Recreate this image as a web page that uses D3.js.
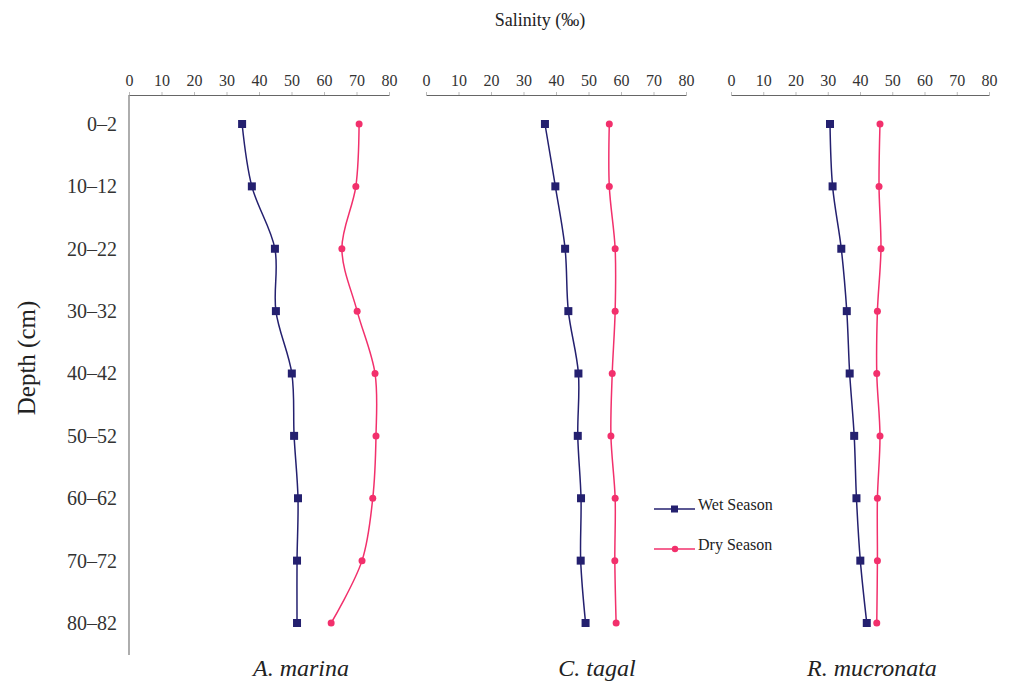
<!DOCTYPE html>
<html><head><meta charset="utf-8">
<script src="https://cdn.jsdelivr.net/npm/d3@7"></script>
<style>body{margin:0;background:#fff;} svg{display:block;}</style>
</head><body>
<svg id="c" width="1012" height="693"></svg>
<script>
const depths = ["0–2","10–12","20–22","30–32","40–42","50–52","60–62","70–72","80–82"];
const xTicks = [0,10,20,30,40,50,60,70,80];
const species = ["A. marina","C. tagal","R. mucronata"];
const wetMarina = [34.8,37.8,44.9,45.2,50.1,50.8,52.0,51.7,51.7];
const dryMarina = [70.8,69.8,65.5,70.2,75.7,76.0,75.0,71.7,62.2];
const wetTagal = [36.6,39.8,42.8,43.8,46.9,46.7,47.7,47.6,49.1];
const dryTagal = [56.4,56.4,58.2,58.2,57.3,56.9,58.2,58.1,58.5];
const wetMucronata = [30.7,31.5,34.2,35.9,36.8,38.2,38.9,40.1,42.1];
const dryMucronata = [46.2,45.9,46.5,45.4,45.2,46.2,45.4,45.4,45.2];
const seriesNames = ["Wet Season","Dry Season"];

const wetColor = "#24206f", dryColor = "#f2306c";
const font = "'Liberation Serif', 'DejaVu Serif', serif";
const svg = d3.select("#c");
const panels = [
  {name: species[0], wet: wetMarina, dry: dryMarina, x0: 129, x1: 389, leftAxis: true, lx: 301},
  {name: species[1], wet: wetTagal, dry: dryTagal, x0: 426, x1: 686, leftAxis: false, lx: 597},
  {name: species[2], wet: wetMucronata, dry: dryMucronata, x0: 731, x1: 989, leftAxis: false, lx: 872}
];
const y = d3.scalePoint().domain(depths).range([124, 623]);
const axisY = 95;

panels.forEach((p, i) => {
  const x = d3.scaleLinear().domain([0, 80]).range([p.x0, p.x1]);
  const g = svg.append("g").attr("transform", `translate(0,${axisY})`)
    .call(d3.axisTop(x).tickValues(xTicks).tickSize(3).tickPadding(6).tickSizeOuter(0));
  g.attr("font-family", font);
  g.select(".domain").attr("stroke", "#666").attr("stroke-width", 1.2);
  g.selectAll(".tick line").attr("stroke", "#bbb");
  g.selectAll(".tick text").attr("font-family", font).attr("font-size", 16).attr("fill", "#333");
  if (p.leftAxis) {
    const ga = svg.append("g").attr("transform", `translate(${p.x0},0)`)
      .call(d3.axisLeft(y).tickSize(0).tickPadding(12));
    ga.attr("font-family", font);
    ga.select(".domain").attr("d", `M0,${axisY}V655`).attr("stroke", "#777").attr("stroke-width", 1.2);
    ga.selectAll(".tick text").attr("font-family", font).attr("font-size", 20).attr("fill", "#333");
  }
  const line = vals => d3.line().x(d => x(d[1])).y(d => y(d[0])).curve(d3.curveCatmullRom.alpha(0.5))(depths.map((c, k) => [c, vals[k]]));
  svg.append("path").attr("d", line(p.wet)).attr("fill", "none").attr("stroke", wetColor).attr("stroke-width", 1.5);
  svg.append("path").attr("d", line(p.dry)).attr("fill", "none").attr("stroke", dryColor).attr("stroke-width", 1.5);
  svg.selectAll(null).data(p.wet).enter().append("rect")
    .attr("x", (d, k) => x(d) - 4).attr("y", (d, k) => y(depths[k]) - 4)
    .attr("width", 8).attr("height", 8).attr("fill", wetColor);
  svg.selectAll(null).data(p.dry).enter().append("circle")
    .attr("cx", d => x(d)).attr("cy", (d, k) => y(depths[k])).attr("r", 3.5).attr("fill", dryColor);
  svg.append("text").attr("x", p.lx).attr("y", 676)
    .attr("text-anchor", "middle").attr("font-family", font).attr("font-style", "italic")
    .attr("font-size", 24).attr("fill", "#222").text(p.name);
});

svg.append("text").attr("x", 540).attr("y", 26).attr("text-anchor", "middle")
  .attr("font-family", font).attr("font-size", 18).attr("fill", "#222").text("Salinity (‰)");
svg.append("text").attr("transform", "translate(35,358) rotate(-90)").attr("text-anchor", "middle")
  .attr("font-family", font).attr("font-size", 25).attr("fill", "#222").text("Depth (cm)");

// legend
const leg = [{n: seriesNames[0], c: wetColor, s: "rect", yy: 509}, {n: seriesNames[1], c: dryColor, s: "circle", yy: 549}];
leg.forEach(l => {
  svg.append("line").attr("x1", 654).attr("x2", 695).attr("y1", l.yy).attr("y2", l.yy).attr("stroke", l.c).attr("stroke-width", 1.5);
  if (l.s === "rect") svg.append("rect").attr("x", 671).attr("y", l.yy - 3.5).attr("width", 7).attr("height", 7).attr("fill", l.c);
  else svg.append("circle").attr("cx", 675).attr("cy", l.yy).attr("r", 3.2).attr("fill", l.c);
  svg.append("text").attr("x", 698).attr("y", l.yy + 1)
    .attr("font-family", font).attr("font-size", 16).attr("fill", "#222").text(l.n);
});
</script>
</body></html>
